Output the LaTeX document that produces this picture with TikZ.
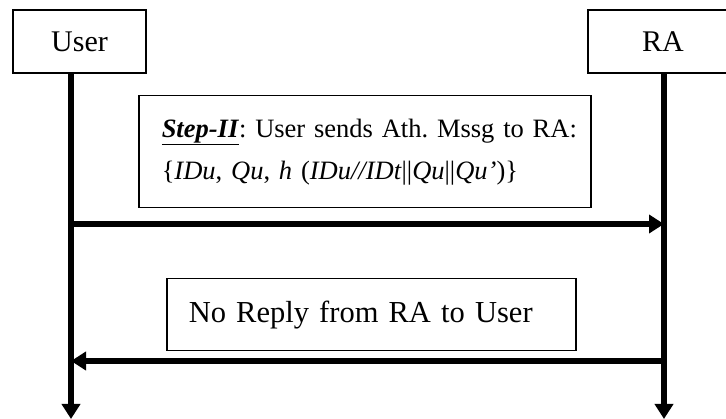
\documentclass[tikz,border=0pt]{standalone}
\usepackage{fontspec}
\setmainfont{Liberation Serif}
\usepackage{tikz}
\usetikzlibrary{arrows.meta,positioning}
\frenchspacing

\begin{document}
\begin{tikzpicture}[x=1pt,y=-1pt,
	>={Triangle[width=18pt,length=15pt]},
	actor/.style={draw,line width=1.5pt,rectangle,minimum height=63pt,font=\fontsize{30}{36}\selectfont},
	msgbox/.style={draw,line width=1.5pt,rectangle,align=left,anchor=north west},
	life/.style={line width=6pt,->}]
	\useasboundingbox (0,0) rectangle (726,419);

	\node[actor,minimum width=133pt] (user) at (79.5,41.5) {User};
	\node[actor,minimum width=150pt] (ra) at (663,41.5) {RA};

	\coordinate (userend) at (71,419);
	\coordinate (raend) at (664,419);
	\coordinate (m1) at (0,224);
	\coordinate (m2) at (0,361);

	\node[msgbox,minimum width=452pt,minimum height=112pt,text width=406pt,inner xsep=23pt,
		font=\fontsize{26.5}{42}\selectfont] (step) at (138,95)
		{\mbox{\underline{\textbf{\textit{Step-II}}}: User sends Ath. Mssg to RA:}\\
		\mbox{\{\textit{IDu}, \textit{Qu}, \textit{h} (\textit{IDu//IDt}||\textit{Qu}||\textit{Qu’})\}}};
	\node[msgbox,minimum width=409pt,minimum height=72pt,text width=365pt,inner xsep=22pt,
		font=\fontsize{30.5}{36}\selectfont] (noreply) at (166,278)
		{No Reply from RA to User};

	\path[life]
	(userend |- user.south) edge (userend)
	(raend |- ra.south) edge (raend)
	(userend |- m1) edge (raend |- m1)
	(raend |- m2) edge (userend |- m2)
	;
\end{tikzpicture}
\end{document}
